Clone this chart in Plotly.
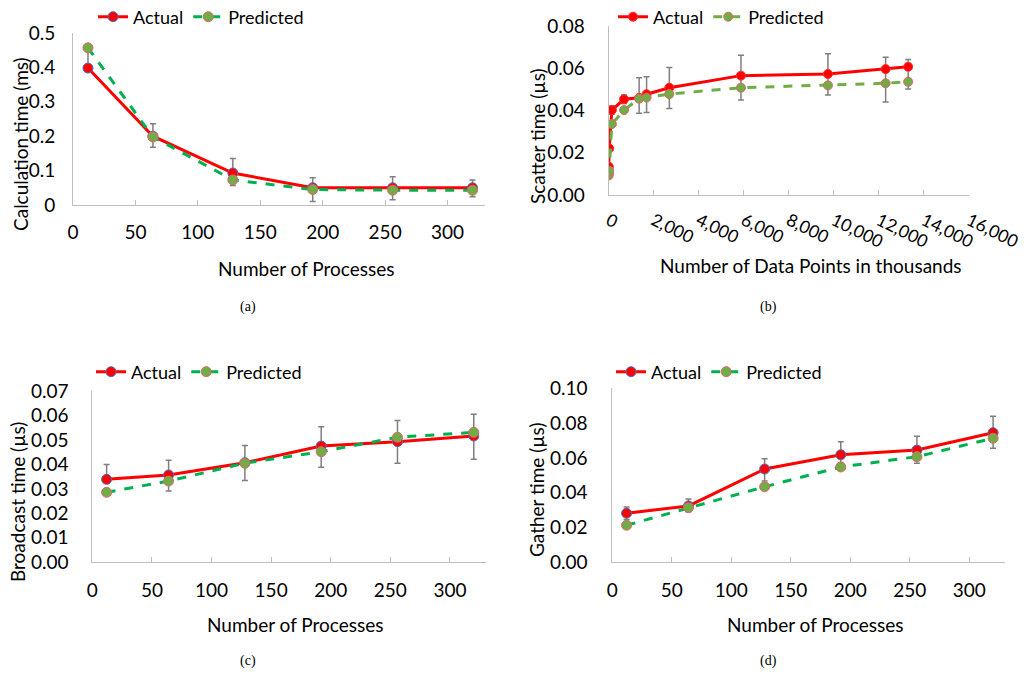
import plotly.graph_objects as go

# ---------------- data ----------------
# (a) calculation time
a_x = [12, 64, 128, 192, 256, 320]
a_actual = [0.398, 0.200, 0.093, 0.050, 0.050, 0.050]
a_pred = [0.457, 0.198, 0.073, 0.045, 0.043, 0.043]
a_err_plus = [0.056, 0.036, 0.042, 0.029, 0.032, 0.023]
a_err_minus = [0.0, 0.032, 0.036, 0.040, 0.035, 0.026]

# (b) scatter time vs data points (thousands)
b_x = [5, 15, 30, 150, 690, 1360, 1690, 2700, 5880, 9740, 12300, 13300]
b_actual = [0.0105, 0.0134, 0.0221, 0.0402, 0.0453, 0.0460, 0.0477, 0.0508, 0.0565, 0.0573, 0.0596, 0.0607]
b_pred = [0.0092, 0.0099, 0.0115, 0.0336, 0.0402, 0.0456, 0.0461, 0.0478, 0.0508, 0.0519, 0.0529, 0.0536]
b_err_plus = [0.0, 0.0, 0.0, 0.002, 0.002, 0.0095, 0.0083, 0.0096, 0.0096, 0.0096, 0.0056, 0.0034]
b_err_minus = [0.0, 0.0, 0.0, 0.002, 0.002, 0.0073, 0.0087, 0.0098, 0.0115, 0.0100, 0.0156, 0.0105]

# (c) broadcast time
c_x = [12, 64, 128, 192, 256, 320]
c_actual = [0.0339, 0.0357, 0.0407, 0.0475, 0.0493, 0.0516]
c_pred = [0.0286, 0.0332, 0.0405, 0.0452, 0.0511, 0.0531]
c_err_plus = [0.0061, 0.0060, 0.0070, 0.0079, 0.0086, 0.0089]
c_err_minus = [0.0, 0.0066, 0.0073, 0.0087, 0.0088, 0.0095]

# (d) gather time
d_x = [12, 64, 128, 192, 256, 320]
d_actual = [0.0282, 0.0324, 0.0536, 0.0618, 0.0645, 0.0745]
d_pred = [0.0213, 0.0314, 0.0434, 0.0548, 0.0607, 0.0713]
d_err_plus = [0.0036, 0.0040, 0.0059, 0.0075, 0.0079, 0.0094]
d_err_minus = [0.0036, 0.0034, 0.0069, 0.0048, 0.0076, 0.0090]

panels = [
    dict(key="a", x=a_x, act=a_actual, pred=a_pred, ep=a_err_plus, em=a_err_minus,
         xr=[0, 330], yr=[0, 0.5], dtick_x=50, dtick_y=0.1, yfmt="", xfmt="",
         dom_x=(73, 485), dom_y=(33, 205),
         ytitle="Calculation time (ms)", xtitle="Number of Processes",
         ytpos=(20, 144), xtpos=(306, 268), cap="(a)", cappos=(248, 307),
         legpos=(93, 17), pred_line="#00B050", act_edge="#4472C4", msize=10,
         ystand=13, xstand=10, tickangle=0, xfs=19),
    dict(key="b", x=b_x, act=b_actual, pred=b_pred, ep=b_err_plus, em=b_err_minus,
         xr=[0, 16000], yr=[0, 0.08], dtick_x=2000, dtick_y=0.02, yfmt=".2f", xfmt=",d",
         dom_x=(608.5, 969), dom_y=(26, 195),
         ytitle="Scatter time (µs)", xtitle="Number of Data Points in thousands",
         ytpos=(538, 136), xtpos=(811, 266), cap="(b)", cappos=(768, 307),
         legpos=(613, 17), pred_line="#70AD47", act_edge="#FF3030", msize=9,
         ystand=19, xstand=8, tickangle=26, xfs=17.5),
    dict(key="c", x=c_x, act=c_actual, pred=c_pred, ep=c_err_plus, em=c_err_minus,
         xr=[0, 330], yr=[0, 0.07], dtick_x=50, dtick_y=0.01, yfmt=".2f", xfmt="",
         dom_x=(92.3, 485.7), dom_y=(391, 562.3),
         ytitle="Broadcast time (µs)", xtitle="Number of Processes",
         ytpos=(17, 502), xtpos=(295, 624), cap="(c)", cappos=(248, 661),
         legpos=(91, 372), pred_line="#00B050", act_edge="#4472C4", msize=10,
         ystand=19, xstand=11, tickangle=0, xfs=19),
    dict(key="d", x=d_x, act=d_actual, pred=d_pred, ep=d_err_plus, em=d_err_minus,
         xr=[0, 330], yr=[0, 0.10], dtick_x=50, dtick_y=0.02, yfmt=".2f", xfmt="",
         dom_x=(612.3, 1005), dom_y=(388.3, 562.3),
         ytitle="Gather time (µs)", xtitle="Number of Processes",
         ytpos=(536, 490), xtpos=(815, 624), cap="(d)", cappos=(768, 661),
         legpos=(611, 372), pred_line="#00B050", act_edge="#4472C4", msize=10,
         ystand=20, xstand=11, tickangle=0, xfs=19),
]

W, H = 1024, 677
FONT = "Lato"
fig = go.Figure()
layout = dict(width=W, height=H, margin=dict(l=0, r=0, t=0, b=0, autoexpand=False),
              paper_bgcolor="white", plot_bgcolor="white",
              font=dict(family=FONT, size=19, color="#000000"),
              annotations=[], showlegend=True)

for i, p in enumerate(panels):
    n = "" if i == 0 else str(i + 1)
    xa, ya = "x" + n, "y" + n
    leg = "legend" + n
    fig.add_trace(go.Scatter(
        x=p["x"], y=p["act"], name="Actual", xaxis=xa, yaxis=ya, legend=leg,
        mode="lines+markers",
        line=dict(color="#FF0000", width=3),
        marker=dict(size=p["msize"], color="#FF0000", line=dict(color=p["act_edge"], width=1)),
        error_y=dict(type="data", symmetric=False, array=p["ep"], arrayminus=p["em"],
                     color="#7F7F7F", thickness=1.5, width=3),
    ))
    fig.add_trace(go.Scatter(
        x=p["x"], y=p["pred"], name="Predicted", xaxis=xa, yaxis=ya, legend=leg,
        mode="lines+markers",
        line=dict(color=p["pred_line"], width=3, dash="dash"),
        marker=dict(size=p["msize"], color="#70AD47", line=dict(color="#E06666", width=1)),
    ))
    x0, x1 = p["dom_x"]
    ytop, ybot = p["dom_y"]
    layout["xaxis" + n] = dict(
        domain=[x0 / W, x1 / W], anchor=ya, range=p["xr"], dtick=p["dtick_x"], tick0=0,
        showgrid=False, zeroline=False, showline=True, linecolor="#BFBFBF", linewidth=1,
        ticks="inside", ticklen=5, tickcolor="#BFBFBF", tickformat=p["xfmt"],
        tickangle=p["tickangle"], ticklabelstandoff=p["xstand"], automargin=False,
        ticklabeloverflow="allow",
        tickfont=dict(family=FONT, size=p["xfs"], color="#000000"))
    layout["yaxis" + n] = dict(
        domain=[(H - ybot) / H, (H - ytop) / H], anchor=xa, range=p["yr"], dtick=p["dtick_y"], tick0=0,
        showgrid=False, zeroline=False, showline=True, linecolor="#BFBFBF", linewidth=1,
        ticks="", tickformat=p["yfmt"], ticklabelstandoff=p["ystand"], automargin=False,
        ticklabeloverflow="allow",
        tickfont=dict(family=FONT, size=19, color="#000000"))
    layout[leg] = dict(
        orientation="h", x=p["legpos"][0] / W, y=(H - p["legpos"][1]) / H,
        xanchor="left", yanchor="middle", bgcolor="rgba(0,0,0,0)",
        font=dict(family=FONT, size=18, color="#000000"),
        itemwidth=30, tracegroupgap=0)
    layout["annotations"] += [
        dict(text=p["ytitle"], x=p["ytpos"][0] / W, y=(H - p["ytpos"][1]) / H,
             xref="paper", yref="paper", showarrow=False, textangle=-90,
             font=dict(family=FONT, size=19, color="#000000"), xanchor="center", yanchor="middle"),
        dict(text=p["xtitle"], x=p["xtpos"][0] / W, y=(H - p["xtpos"][1]) / H,
             xref="paper", yref="paper", showarrow=False,
             font=dict(family=FONT, size=19, color="#000000"), xanchor="center", yanchor="middle"),
        dict(text=p["cap"], x=p["cappos"][0] / W, y=(H - p["cappos"][1]) / H,
             xref="paper", yref="paper", showarrow=False,
             font=dict(family="Liberation Serif", size=14, color="#000000"),
             xanchor="center", yanchor="middle"),
    ]

fig.update_layout(**layout)
fig.write_html("out.html", config={"displayModeBar": False},
               post_script="document.body.style.margin='0px';document.body.style.overflow='hidden';")
